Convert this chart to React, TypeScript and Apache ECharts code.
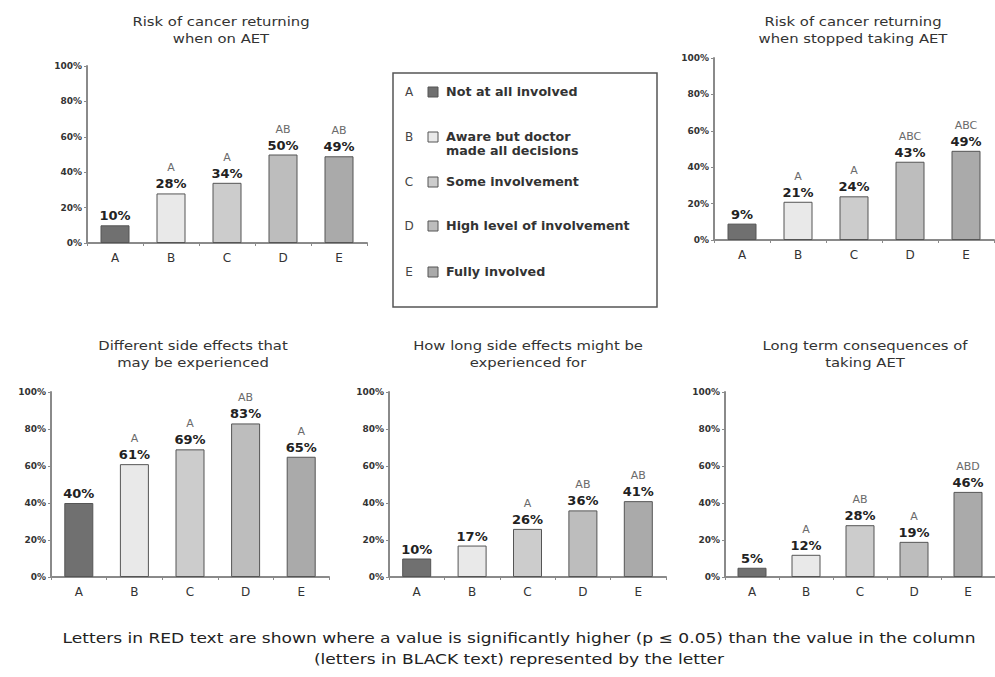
import React, { useEffect, useRef } from 'react';
import * as echarts from 'echarts';

const FONT = '"DejaVu Sans", Verdana, sans-serif';

const categories = ['A', 'B', 'C', 'D', 'E'];

const chartTitles = [
  'Risk of cancer returning\nwhen on AET',
  'Risk of cancer returning\nwhen stopped taking AET',
  'Different side effects that\nmay be experienced',
  'How long side effects might be\nexperienced for',
  'Long term consequences of\ntaking AET',
];

const valuesOnAET = [10, 28, 34, 50, 49];
const lettersOnAET = ['', 'A', 'A', 'AB', 'AB'];

const valuesStopped = [9, 21, 24, 43, 49];
const lettersStopped = ['', 'A', 'A', 'ABC', 'ABC'];

const valuesSideEffects = [40, 61, 69, 83, 65];
const lettersSideEffects = ['', 'A', 'A', 'AB', 'A'];

const valuesHowLong = [10, 17, 26, 36, 41];
const lettersHowLong = ['', '', 'A', 'AB', 'AB'];

const valuesLongTerm = [5, 12, 28, 19, 46];
const lettersLongTerm = ['', 'A', 'AB', 'A', 'ABD'];

const allValues = [valuesOnAET, valuesStopped, valuesSideEffects, valuesHowLong, valuesLongTerm];
const allLetters = [lettersOnAET, lettersStopped, lettersSideEffects, lettersHowLong, lettersLongTerm];

const yMin = 0;
const yMax = 100;
const yInterval = 20;

const legendLabels = [
  'Not at all involved',
  'Aware but doctor\nmade all decisions',
  'Some involvement',
  'High level of involvement',
  'Fully involved',
];

const footerLines = [
  'Letters in RED text are shown where a value is significantly higher (p \u2264 0.05) than the value in the column',
  '(letters in BLACK text) represented by the letter',
];

// styles / layout
const barColors = ['#707070', '#e9e9e9', '#cccccc', '#bdbdbd', '#aaaaaa'];
const grids = [
  { left: 87, top: 66, width: 280, height: 177 },
  { left: 714, top: 58, width: 280, height: 182 },
  { left: 51, top: 392, width: 278, height: 185 },
  { left: 389, top: 392, width: 277, height: 185 },
  { left: 725, top: 392, width: 279, height: 185 },
];
const titlePos = [
  { x: 221, y: 13 },
  { x: 853, y: 13 },
  { x: 193, y: 337 },
  { x: 528, y: 337 },
  { x: 865, y: 337 },
];
const legendY = [85, 130, 175, 219, 265];

export default function App() {
  const ref = useRef<HTMLDivElement>(null);

  useEffect(() => {
    const chart = echarts.init(ref.current!, null, { renderer: 'svg', width: 995, height: 677 });

    const axisColor = '#8a8a8a';

    const xAxis = grids.map((_, i) => ({
      type: 'category',
      gridIndex: i,
      data: categories,
      axisLine: { show: true, lineStyle: { color: axisColor, width: 2 } },
      axisTick: { show: true, length: 3, lineStyle: { color: axisColor } },
      axisLabel: { color: '#333', fontSize: 12, fontFamily: FONT, margin: 9 },
      splitLine: { show: false },
    }));

    const yAxis = grids.map((_, i) => ({
      type: 'value',
      gridIndex: i,
      min: yMin,
      max: yMax,
      interval: yInterval,
      axisLine: { show: true, lineStyle: { color: axisColor, width: 2 } },
      axisTick: { show: true, length: 3, lineStyle: { color: axisColor } },
      axisLabel: {
        formatter: '{value}%',
        color: '#333',
        fontSize: 9,
        fontWeight: 'bold',
        fontFamily: FONT,
        margin: 5,
      },
      splitLine: { show: false },
    }));

    const series = allValues.map((vals, i) => ({
      type: 'bar',
      xAxisIndex: i,
      yAxisIndex: i,
      barWidth: 29,
      data: vals.map((v, j) => ({
        value: v,
        itemStyle: { color: barColors[j], borderColor: '#555', borderWidth: 1 },
      })),
      label: {
        show: true,
        position: 'top',
        distance: 2,
        formatter: (p: any) => {
          const l = allLetters[i][p.dataIndex];
          const v = `{v|${p.value}%}`;
          return l ? `{l|${l}}\n${v}` : v;
        },
        rich: {
          l: { fontSize: 11, color: '#6a6a6a', fontFamily: FONT, lineHeight: 17 },
          v: { fontSize: 13, fontWeight: 'bold', color: '#222', fontFamily: FONT, lineHeight: 15 },
        },
      },
    }));

    const graphic: any[] = [];
    chartTitles.forEach((t, i) => {
      graphic.push({
        type: 'text',
        x: titlePos[i].x,
        y: titlePos[i].y,
        scaleX: 1.14,
        style: {
          text: t,
          textAlign: 'center',
          textVerticalAlign: 'top',
          fontSize: 13,
          fontFamily: FONT,
          lineHeight: 17,
          fill: '#333',
        },
      });
    });

    // legend box
    graphic.push({
      type: 'rect',
      shape: { x: 393, y: 73, width: 264, height: 234 },
      style: { fill: '#fff', stroke: '#555', lineWidth: 1.5 },
    });
    categories.forEach((c, i) => {
      const y = legendY[i];
      graphic.push({
        type: 'text',
        x: 409,
        y,
        style: { text: c, textAlign: 'center', textVerticalAlign: 'top', fontSize: 12, fontFamily: FONT, fill: '#444', lineHeight: 14 },
      });
      graphic.push({
        type: 'rect',
        shape: { x: 428, y: y + 2, width: 10, height: 10 },
        style: { fill: barColors[i], stroke: '#555', lineWidth: 1 },
      });
      graphic.push({
        type: 'text',
        x: 446,
        y,
        scaleX: 1.06,
        style: {
          text: legendLabels[i],
          textAlign: 'left',
          textVerticalAlign: 'top',
          fontSize: 12,
          fontWeight: 'bold',
          fontFamily: FONT,
          fill: '#333',
          lineHeight: 14,
        },
      });
    });

    footerLines.forEach((t, i) => {
      graphic.push({
        type: 'text',
        x: 519,
        y: 632 + i * 21,
        scaleX: 1.22,
        style: {
          text: t,
          textAlign: 'center',
          textVerticalAlign: 'top',
          fontSize: 14,
          fontFamily: FONT,
          fill: '#222',
        },
      });
    });

    chart.setOption({
      animation: false,
      backgroundColor: '#fff',
      grid: grids.map((g) => ({ ...g, containLabel: false })),
      xAxis,
      yAxis,
      series,
      graphic,
    });

    return () => chart.dispose();
  }, []);

  return (
    <div
      ref={ref}
      style={{ position: 'fixed', left: 0, top: 0, width: 995, height: 677, background: '#fff' }}
    />
  );
}
